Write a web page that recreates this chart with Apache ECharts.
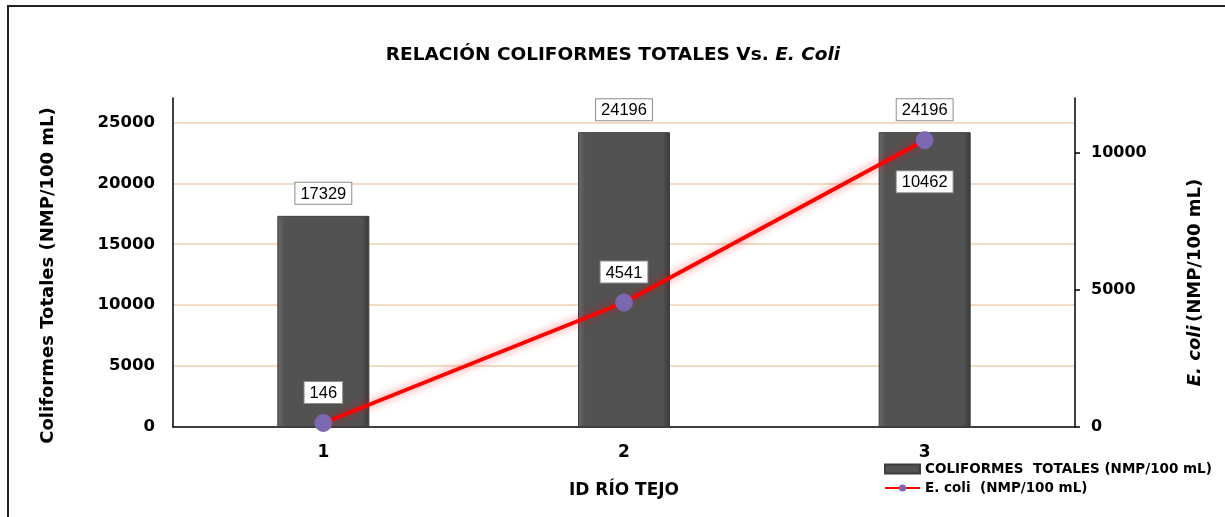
<!DOCTYPE html>
<html>
<head>
<meta charset="utf-8">
<script src="https://cdn.jsdelivr.net/npm/echarts@6/dist/echarts.min.js"></script>
<style>
  html, body { margin: 0; padding: 0; background: #fff; }
  #chart { width: 1225px; height: 517px; }
</style>
</head>
<body>
<div id="chart"></div>
<script>
  // datos
  var categorias = ['1', '2', '3'];
  var coliformes = [17329, 24196, 24196];
  var eColi = [146, 4541, 10462];
  var ticksIzq = [0, 5000, 10000, 15000, 20000, 25000];
  var ticksDer = [0, 5000, 10000];

  var fuente = 'DejaVu Sans';
  var cajaLabel = {
    show: true,
    color: '#000',
    fontFamily: 'Liberation Sans',
    fontSize: 16.5,
    backgroundColor: '#fff',
    borderColor: '#8c8c8c',
    borderWidth: 1,
    padding: [3, 5, 1, 5]
  };

  // la etiqueta del ultimo punto va debajo
  var eColiData = eColi.map(function (v, i) {
    if (i === 2) {
      return { value: v, label: { position: 'bottom', distance: 22 } };
    }
    return v;
  });

  var myChart = echarts.init(document.getElementById('chart'));
  var option = {
    animation: false,
    title: {
      text: '{n|RELACIÓN COLIFORMES TOTALES Vs. }{i|E. Coli}',
      left: 608,
      textAlign: 'center',
      top: 41,
      textStyle: {
        rich: {
          n: { fontFamily: fuente, fontWeight: 'bold', fontSize: 18.5, color: '#000' },
          i: { fontFamily: fuente, fontWeight: 'bold', fontStyle: 'italic', fontSize: 18.5, color: '#000' }
        }
      }
    },
    graphic: [{
      type: 'rect',
      shape: { x: 8, y: 6, width: 1240, height: 540 },
      style: { fill: null, stroke: '#222', lineWidth: 2 },
      silent: true
    }],
    legend: {
      orient: 'vertical',
      left: 879,
      top: 457,
      itemGap: 5,
      itemWidth: 35,
      itemHeight: 9,
      textStyle: { fontFamily: fuente, fontWeight: 'bold', fontSize: 13.5, color: '#000' },
      data: [
        { name: 'COLIFORMES  TOTALES (NMP/100 mL)', icon: 'rect' },
        { name: 'E. coli  (NMP/100 mL)' }
      ]
    },
    grid: { left: 173, right: 150, top: 98, bottom: 90 },
    xAxis: {
      type: 'category',
      data: categorias,
      name: 'ID RÍO TEJO',
      nameLocation: 'middle',
      nameGap: 55,
      nameTextStyle: { fontFamily: fuente, fontWeight: 'bold', fontSize: 17, color: '#000' },
      axisLine: { lineStyle: { color: '#000', width: 1.5 } },
      axisTick: { show: false },
      axisLabel: { fontFamily: fuente, fontWeight: 'bold', fontSize: 17, color: '#000', margin: 17 }
    },
    yAxis: [{
      type: 'value',
      min: 0,
      max: 27000,
      interval: 5000,
      name: 'Coliformes Totales (NMP/100 mL)',
      nameLocation: 'middle',
      nameGap: 116,
      nameTextStyle: { fontFamily: fuente, fontWeight: 'bold', fontSize: 18, color: '#000', padding: [0, 26, 0, 0] },
      axisLine: { show: true, lineStyle: { color: '#000', width: 1.5 } },
      axisTick: { show: false },
      axisLabel: {
        fontFamily: fuente, fontWeight: 'bold', fontSize: 16.5, color: '#000', margin: 18,
        showMaxLabel: false,
        formatter: function (v) { return ticksIzq.indexOf(v) >= 0 ? v : ''; }
      },
      splitLine: { show: true, showMinLine: false, showMaxLine: false, lineStyle: { color: '#f2dcc6', width: 2 } }
    }, {
      type: 'value',
      min: 0,
      max: 12000,
      interval: 5000,
      name: '{i|E. coli} {n|(NMP/100 mL)}',
      nameLocation: 'middle',
      nameGap: 111,
      nameRotate: 90,
      nameTextStyle: {
        padding: [0, 40, 0, 0],
        rich: {
          n: { fontFamily: fuente, fontWeight: 'bold', fontSize: 18, color: '#000' },
          i: { fontFamily: fuente, fontWeight: 'bold', fontStyle: 'italic', fontSize: 18, color: '#000' }
        }
      },
      axisLine: { show: true, lineStyle: { color: '#000', width: 1.5 } },
      axisTick: { show: true, length: 5, lineStyle: { color: '#000', width: 1.5 } },
      axisLabel: {
        fontFamily: fuente, fontWeight: 'bold', fontSize: 16, color: '#000', margin: 16,
        showMaxLabel: false,
        formatter: function (v) { return ticksDer.indexOf(v) >= 0 ? v : ''; }
      },
      splitLine: { show: false }
    }],
    series: [{
      name: 'COLIFORMES  TOTALES (NMP/100 mL)',
      type: 'bar',
      data: coliformes,
      barWidth: 92,
      itemStyle: {
        color: new echarts.graphic.LinearGradient(0, 0, 1, 0, [
          { offset: 0, color: '#6a6a6a' },
          { offset: 0.08, color: '#525252' },
          { offset: 0.92, color: '#525252' },
          { offset: 1, color: '#3a3a3a' }
        ]),
        borderColor: '#3d3d3d',
        borderWidth: 1
      },
      label: echarts.util.extend({ position: 'top', distance: 12 }, cajaLabel)
    }, {
      name: 'E. coli  (NMP/100 mL)',
      type: 'line',
      yAxisIndex: 1,
      data: eColiData,
      symbol: 'circle',
      symbolSize: 17,
      z: 5,
      lineStyle: { color: '#ff0000', width: 4, shadowColor: 'rgba(255,0,0,0.55)', shadowBlur: 8 },
      itemStyle: { color: '#7b68b0', borderColor: '#7b68b0' },
      label: echarts.util.extend({ position: 'top', distance: 11 }, cajaLabel)
    }]
  };
  myChart.setOption(option);
</script>
</body>
</html>
